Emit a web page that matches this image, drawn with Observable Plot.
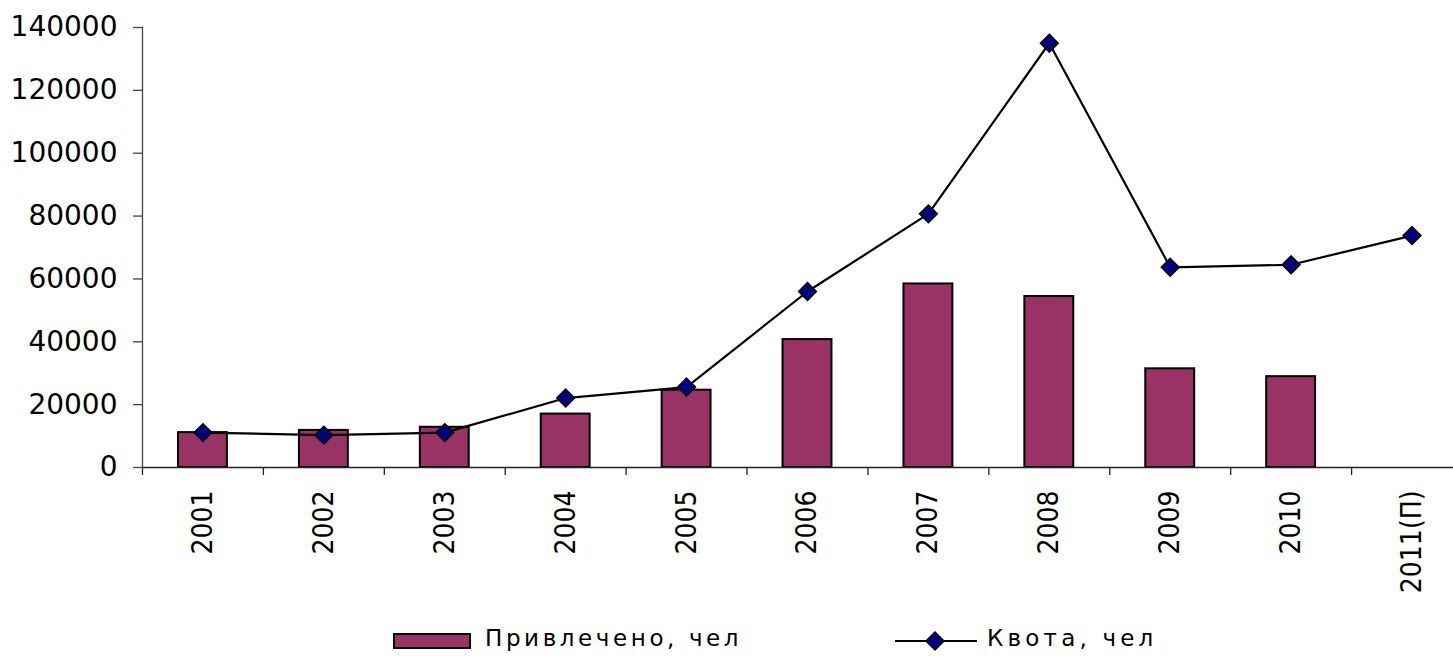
<!DOCTYPE html>
<html>
<head>
<meta charset="utf-8">
<script src="https://cdn.jsdelivr.net/npm/d3@7"></script>
<script src="https://cdn.jsdelivr.net/npm/@observablehq/plot@0.6"></script>
<style>
  html, body { margin: 0; padding: 0; background: #fff; }
  #wrap { position: relative; width: 1453px; height: 656px; overflow: hidden; background: #fff; }
  #chart { position: absolute; left: 0; top: 0; }
  .lg { position: absolute; font-family: "DejaVu Sans", sans-serif; font-size: 23px; line-height: 23px; color: #000; white-space: nowrap; }
  .sw { position: absolute; box-sizing: border-box; background: #993366; border: 2px solid #000; }
  .ls { position: absolute; }
</style>
</head>
<body>
<div id="wrap">
  <div id="chart"></div>
  <div class="sw" style="left:393px; top:633px; width:78px; height:16px;"></div>
  <div class="lg" id="lg1" style="left:485px; top:627px; letter-spacing:3.6px;"></div>
  <svg class="ls" style="left:895px; top:630px;" width="82" height="22">
    <line x1="0" y1="11" x2="82" y2="11" stroke="#000" stroke-width="2.2"></line>
    <path d="M40,2 L49,11 L40,20 L31,11 Z" fill="#000080" stroke="#000" stroke-width="1.5"></path>
  </svg>
  <div class="lg" id="lg2" style="left:987px; top:627px; letter-spacing:4.2px;"></div>
</div>
<script>
// ---- data ----
const years = ["2001", "2002", "2003", "2004", "2005", "2006", "2007", "2008", "2009", "2010", "2011(П)"];
const attracted = [11100, 11800, 12800, 17000, 24600, 40700, 58400, 54400, 31400, 28900, null];
const quota = [11100, 10300, 11100, 22100, 25600, 56000, 80700, 135000, 63700, 64500, 73800];
const yTicks = [0, 20000, 40000, 60000, 80000, 100000, 120000, 140000];
const seriesNames = ["Привлечено, чел", "Квота, чел"];

document.getElementById("lg1").textContent = seriesNames[0];
document.getElementById("lg2").textContent = seriesNames[1];

const rows = years.map((year, i) => ({year, attracted: attracted[i], quota: quota[i]}));
const barRows = rows.filter(d => d.attracted != null);

const xLeft = 142, xRight = 1472;
const bandStep = (xRight - xLeft) / years.length;

const chart = Plot.plot({
  width: 1453,
  height: 615,
  marginLeft: 142,
  marginRight: 0,
  marginTop: 27,
  marginBottom: 148,
  style: {background: "#fff", color: "#000", fontFamily: "DejaVu Sans, sans-serif", overflow: "visible"},
  x: {type: "band", domain: years, range: [xLeft, xRight], padding: 0, round: false, axis: null, label: null},
  y: {domain: [0, 140000], axis: null, label: null},
  marks: [
    Plot.barY(barRows, {x: "year", y: "attracted", fill: "#993366", stroke: "#000", strokeWidth: 2, insetLeft: 36, insetRight: 36}),
    Plot.ruleY([0], {stroke: "#222", strokeWidth: 1.3}),
    Plot.frame({anchor: "left", stroke: "#444", strokeWidth: 1.3}),
    Plot.axisY({ticks: yTicks, tickSize: 9, tickPadding: 16, tickFormat: d => String(d), fontSize: 28, stroke: "#444", strokeWidth: 1.3, fill: "#000", label: null}),
    Plot.axisX({ticks: years, tickSize: 8, tickFormat: () => "", dx: -bandStep / 2, stroke: "#222", strokeWidth: 1.3, label: null}),
    Plot.text(years, {x: d => d, text: d => d, frameAnchor: "bottom", dy: 23, rotate: -90, textAnchor: "end", lineAnchor: "middle", fontSize: 28, fontFamily: "Liberation Sans Narrow, DejaVu Sans Condensed, Arial Narrow, sans-serif", fill: "#000"}),
    Plot.line(rows, {x: "year", y: "quota", stroke: "#000", strokeWidth: 2.2}),
    Plot.dot(rows, {x: "year", y: "quota", symbol: "diamond2", r: 8, fill: "#000080", stroke: "#000", strokeWidth: 1.5})
  ]
});
document.getElementById("chart").appendChild(chart);
</script>
</body>
</html>
